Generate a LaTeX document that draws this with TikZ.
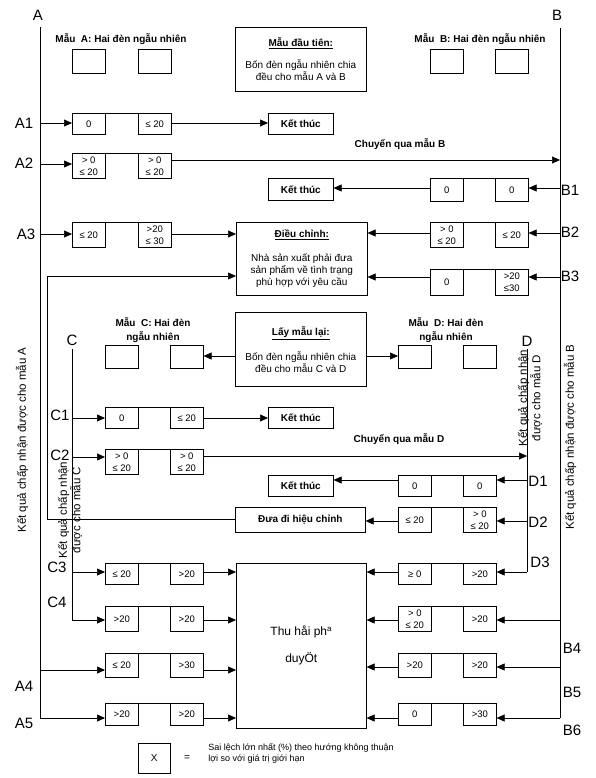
\documentclass[tikz,border=0pt]{standalone}
\usepackage{fontspec}
\setmainfont{Liberation Sans}
\usetikzlibrary{arrows.meta}
\newcommand\pairrow[7]{%
  \node[cell, minimum height=#5pt] (#1a) at (#2,#4) {#6};
  \node[cell, minimum height=#5pt] (#1b) at (#3,#4) {#7};
  \draw (#1a.north east) -- (#1b.north west);
}
\begin{document}
\begin{tikzpicture}[x=1pt,y=-1pt,line width=0.6pt,
  cell/.style={draw, minimum width=33pt, inner sep=0pt, anchor=north west,
    font=\fontsize{9.5}{12}\selectfont, align=center},
  sample/.style={draw, minimum width=33pt, minimum height=24pt, inner sep=0pt, anchor=north west},
  endbox/.style={draw, minimum width=65pt, minimum height=21pt, inner sep=0pt, anchor=north west,
    font=\bfseries\fontsize{10}{12}\selectfont},
  bigbox/.style={draw, minimum width=131pt, inner sep=0pt, anchor=north west, align=center,
    font=\fontsize{10}{12}\selectfont},
  lbl/.style={font=\fontsize{15}{15}\selectfont, inner sep=0pt},
  head/.style={font=\bfseries\fontsize{10}{14}\selectfont, align=center, inner sep=0pt},
  vtext/.style={rotate=90, font=\fontsize{11.5}{13.5}\selectfont, align=center, inner sep=0pt},
  arr/.style={-{Triangle[length=8pt,width=7pt]}}
]
\useasboundingbox (0,0) rectangle (595,778);

% ---- main labels and lines
\node[lbl] (lA) at (38,15) {A};
\node[lbl] (lB) at (557,15) {B};
\coordinate (Atop) at (40,27);
\coordinate (Btop) at (560,28);
\coordinate (A1) at (40,123);
\coordinate (A2) at (40,164);
\coordinate (A3) at (40,234);
\coordinate (A4) at (40,670);
\coordinate (A5) at (40,718);
\coordinate (B2x) at (560,160);
\coordinate (B1) at (560,188);
\coordinate (B2) at (560,233);
\coordinate (B3) at (560,277);
\coordinate (B4) at (560,620);
\coordinate (B5) at (560,667);
\coordinate (B6) at (560,718);
\draw (Atop) -- (A5);
\draw (Btop) -- (B6);

\node[lbl] (lA1) at (24,123) {A1};
\node[lbl] (lA2) at (24,163) {A2};
\node[lbl] (lA3) at (26,234) {A3};
\node[lbl] (lA4) at (24,686) {A4};
\node[lbl] (lA5) at (24,723) {A5};
\node[lbl] (lB1) at (570,190) {B1};
\node[lbl] (lB2) at (570,232) {B2};
\node[lbl] (lB3) at (570,276) {B3};
\node[lbl] (lB4) at (572,648) {B4};
\node[lbl] (lB5) at (572,692) {B5};
\node[lbl] (lB6) at (572,730) {B6};

\node[vtext] (vA) at (22,440) {Kết quả chấp nhận được cho mẫu A};
\node[vtext] (vB) at (570,437) {Kết quả chấp nhận được cho mẫu B};

% ---- header
\node[head] (hA) at (121,39) {Mẫu\ \ A: Hai đèn ngẫu nhiên};
\node[head] (hB) at (480,39) {Mẫu\ \ B: Hai đèn ngẫu nhiên};
\node[sample] (sa1) at (72,49) {};
\node[sample] (sa2) at (138,49) {};
\node[sample] (sb1) at (430,49) {};
\node[sample] (sb2) at (495,49) {};
\node[bigbox, minimum height=64pt] (first) at (235,27)
  {\underline{\textbf{Mẫu đầu tiên:}}\\[10pt]Bốn đèn ngẫu nhiên chia\\đều cho mẫu A và B};

% ---- end boxes
\node[endbox] (k1) at (268,113) {Kết thúc};
\node[endbox, minimum height=22pt] (k2) at (268,178) {Kết thúc};
\node[endbox] (k3) at (268,407) {Kết thúc};
\node[endbox] (k4) at (268,475) {Kết thúc};

% ---- A rows
\pairrow{a1}{72}{138}{113}{21}{0}{≤ 20}
\pairrow{a2}{72}{138}{153}{25}{> 0\\≤ 20}{> 0\\≤ 20}
\pairrow{a3}{72}{138}{222}{25}{≤ 20}{>20\\≤ 30}
\draw[arr] (A1) -- (A1 -| a1a.west);
\draw[arr] (A1 -| a1b.east) -- (A1 -| k1.west);
\draw[arr] (A2) -- (A2 -| a2a.west);
\draw[arr] (B2x -| a2b.east) -- (B2x);
\node[head] (chB) at (400,144) {Chuyển qua mẫu B};

% ---- B rows
\pairrow{b1}{430}{495}{178}{23}{0}{0}
\pairrow{b2}{430}{495}{222}{25}{> 0\\≤ 20}{≤ 20}
\pairrow{b3}{430}{495}{269}{26}{0}{>20\\≤30}
\draw[arr] (B1) -- (B1 -| b1b.east);
\draw[arr] (B1 -| b1a.west) -- (B1 -| k2.east);

\node[bigbox, minimum height=73pt] (dc) at (236,222)
  {\underline{\textbf{Điều chỉnh:}}\\[12pt]Nhà sản xuất phải đưa\\sản phẩm về tình trạng\\phù hợp với yêu cầu};
\draw[arr] (A3) -- (A3 -| a3a.west);
\draw[arr] (A3 -| a3b.east) -- (A3 -| dc.west);
\draw[arr] (B2) -- (B2 -| b2b.east);
\draw[arr] (B2 -| b2a.west) -- (B2 -| dc.east);
\draw[arr] (B3) -- (B3 -| b3b.east);
\draw[arr] (B3 -| b3a.west) -- (B3 -| dc.east);

% ---- resampling
\node[bigbox, minimum height=74pt] (lm) at (235,312)
  {\underline{\textbf{Lấy mẫu lại:}}\\[11pt]Bốn đèn ngẫu nhiên chia\\đều cho mẫu C và D};
\node[head] (hC) at (153,330) {Mẫu\ \ C: Hai đèn\\ngẫu nhiên};
\node[head] (hD) at (446,330) {Mẫu\ \ D: Hai đèn\\ngẫu nhiên};
\node[sample, minimum height=23pt] (sc1) at (105,345) {};
\node[sample, minimum height=23pt] (sc2) at (170,345) {};
\node[sample, minimum height=23pt] (sd1) at (398,345) {};
\node[sample, minimum height=23pt] (sd2) at (463,345) {};
\coordinate (LM) at (300,356);
\draw[arr] (LM -| lm.west) -- (LM -| sc2.east);
\draw[arr] (LM -| lm.east) -- (LM -| sd1.west);

% ---- C and D lines
\node[lbl] (lC) at (72,340) {C};
\node[lbl] (lD) at (527,341) {D};
\coordinate (Ctop) at (72,349);
\coordinate (Dtop) at (527,349);
\coordinate (C1) at (72,418);
\coordinate (C2) at (72,457);
\coordinate (C3) at (72,572);
\coordinate (C4) at (72,620);
\coordinate (D2x) at (527,456);
\coordinate (D1) at (527,480);
\coordinate (D2) at (527,521);
\coordinate (D3) at (527,572);
\draw (Ctop) -- (C4);
\draw (Dtop) -- (D3);
\node[lbl] (lC1) at (60,415) {C1};
\node[lbl] (lC2) at (60,455) {C2};
\node[lbl] (lC3) at (57,567) {C3};
\node[lbl] (lC4) at (57,602) {C4};
\node[lbl] (lD1) at (538,481) {D1};
\node[lbl] (lD2) at (538,522) {D2};
\node[lbl] (lD3) at (540,562) {D3};
\node[vtext] (vC) at (70,510) {Kết quả chấp nhận\\được cho mẫu C};
\node[vtext] (vD) at (530,398) {Kết quả chấp nhận\\được cho mẫu D};

% ---- C rows
\pairrow{c1}{105}{170}{407}{21}{0}{≤ 20}
\pairrow{c2}{105}{170}{449}{25}{> 0\\≤ 20}{> 0\\≤ 20}
\draw[arr] (C1) -- (C1 -| c1a.west);
\draw[arr] (C1 -| c1b.east) -- (C1 -| k3.west);
\draw[arr] (C2) -- (C2 -| c2a.west);
\draw[arr] (D2x -| c2b.east) -- (D2x);
\node[head] (chD) at (399,439) {Chuyển qua mẫu D};

% ---- D rows
\pairrow{d1}{398}{463}{475}{21}{0}{0}
\pairrow{d2}{398}{463}{507}{25}{≤ 20}{> 0\\≤ 20}
\node[endbox, minimum width=130pt, minimum height=25pt] (hc) at (235,507) {Đưa đi hiệu chỉnh};
\draw[arr] (D1) -- (D1 -| d1b.east);
\draw[arr] (D1 -| d1a.west) -- (D1 -| k4.east);
\draw[arr] (D2) -- (D2 -| d2b.east);
\draw[arr] (D2 -| d2a.west) -- (D2 -| hc.east);
\coordinate (L1) at (47,519);
\coordinate (L2) at (47,276);
\draw[arr] (L1 -| hc.west) -- (L1) -- (L2) -- (L2 -| dc.west);

% ---- bottom rows
\node[draw, minimum width=130pt, minimum height=165pt, inner sep=0pt, anchor=north west,
  align=center, font=\fontsize{12}{14}\selectfont] (thu) at (236,563)
  {Thu håi ph\textsuperscript{a}\\[13pt]duyÖt};
\pairrow{c3}{105}{170}{563}{21}{≤ 20}{>20}
\pairrow{c4}{105}{170}{606}{25}{>20}{>20}
\pairrow{a4}{105}{170}{653}{24}{≤ 20}{>30}
\pairrow{a5}{105}{170}{703}{22}{>20}{>20}
\pairrow{d3}{398}{463}{563}{21}{≥ 0}{>20}
\pairrow{b4}{398}{463}{606}{25}{> 0\\≤ 20}{>20}
\pairrow{b5}{398}{463}{653}{24}{>20}{>20}
\pairrow{b6}{398}{463}{703}{22}{0}{>30}
\foreach \r/\c in {c3/C3,c4/C4,a4/A4,a5/A5}{
  \draw[arr] (\c) -- (\c -| \r a.west);
  \draw[arr] (\c -| \r b.east) -- (\c -| thu.west);
}
\foreach \r/\c in {d3/D3,b4/B4,b5/B5,b6/B6}{
  \draw[arr] (\c) -- (\c -| \r b.east);
  \draw[arr] (\c -| \r a.west) -- (\c -| thu.east);
}

% ---- legend
\node[draw, minimum width=32pt, minimum height=30pt, inner sep=0pt, anchor=north west,
  font=\fontsize{10}{12}\selectfont] (xbox) at (138,743) {X};
\node[inner sep=0pt, font=\fontsize{10}{12}\selectfont] (eq) at (187,758) {=};
\node[inner sep=0pt, anchor=west, align=left, font=\fontsize{9}{11}\selectfont] (legend) at (208,753)
  {Sai lệch lớn nhất (\%) theo hướng không thuận\\lợi so với giá trị giới hạn};
\end{tikzpicture}
\end{document}
